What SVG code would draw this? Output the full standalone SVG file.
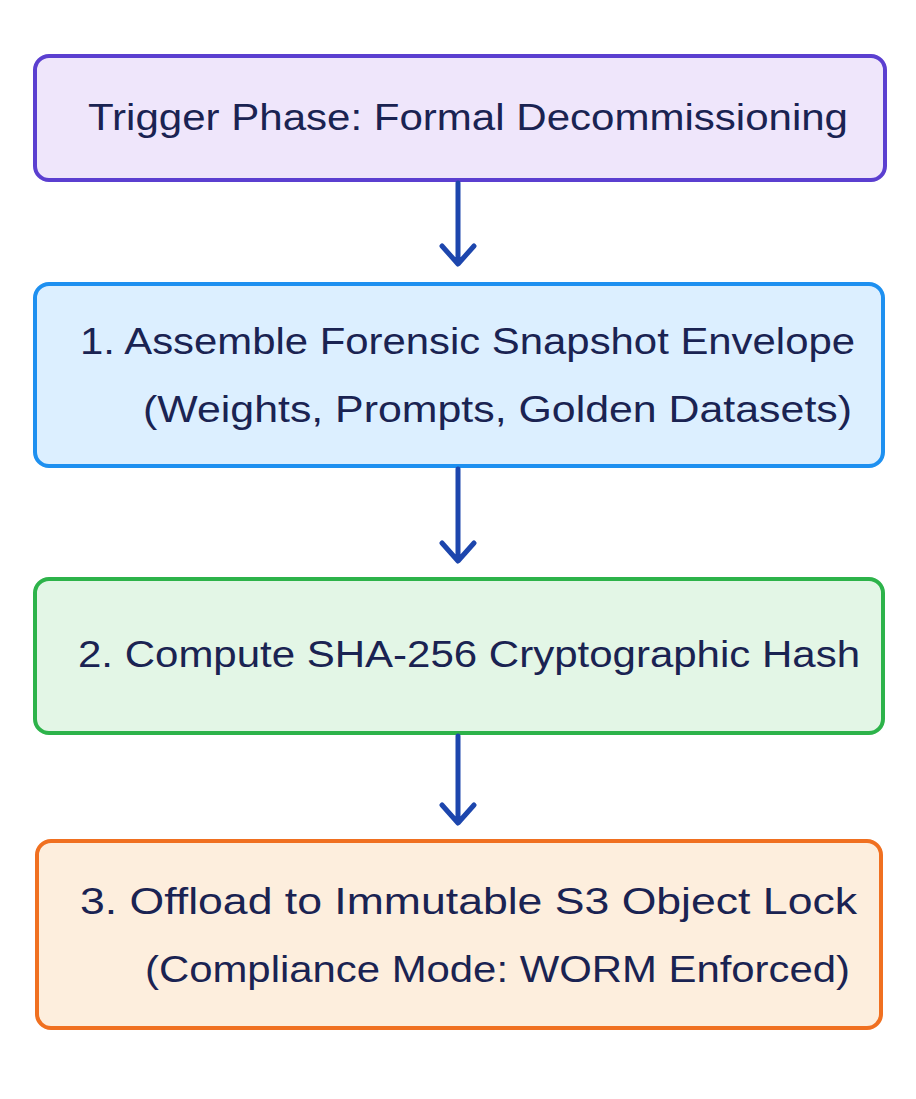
<svg xmlns="http://www.w3.org/2000/svg" width="916" height="1099" viewBox="0 0 916 1099">
<defs>
<style>
.t{font-family:"Liberation Sans",Lato,sans-serif;font-size:36px;fill:#1a2352;}
.b{stroke-width:4;}
.c{stroke:#1d46ad;stroke-width:5;fill:none;stroke-linecap:round;stroke-linejoin:round;}
</style>
</defs>
<rect width="916" height="1099" fill="#ffffff"/>
<g id="n0"><rect class="b" x="35" y="56" width="850" height="124" rx="14" fill="#efe6fb" stroke="#5b3fd0"/>
<text class="t" x="88" y="130" textLength="760" lengthAdjust="spacingAndGlyphs">Trigger Phase: Formal Decommissioning</text></g>
<g id="n1"><rect class="b" x="35" y="284" width="848" height="182" rx="14" fill="#dcefff" stroke="#1e90f0"/>
<text class="t" x="80" y="354" textLength="775" lengthAdjust="spacingAndGlyphs">1. Assemble Forensic Snapshot Envelope</text>
<text class="t" x="143" y="422" textLength="709" lengthAdjust="spacingAndGlyphs">(Weights, Prompts, Golden Datasets)</text></g>
<g id="n2"><rect class="b" x="35" y="579" width="848" height="154" rx="14" fill="#e3f6e6" stroke="#2db34a"/>
<text class="t" x="78" y="667" textLength="782" lengthAdjust="spacingAndGlyphs">2. Compute SHA-256 Cryptographic Hash</text></g>
<g id="n3"><rect class="b" x="37" y="841" width="844" height="187" rx="14" fill="#fdeedd" stroke="#f07020"/>
<text class="t" x="80" y="914" textLength="777" lengthAdjust="spacingAndGlyphs">3. Offload to Immutable S3 Object Lock</text>
<text class="t" x="145" y="982" textLength="705" lengthAdjust="spacingAndGlyphs">(Compliance Mode: WORM Enforced)</text></g>
<g id="connectors">
<path class="c" d="M458 183 V263 M442 246 L458 264 L474 246"/>
<path class="c" d="M458 469 V560 M442 543 L458 561 L474 543"/>
<path class="c" d="M458 736 V822 M442 805 L458 823 L474 805"/>
</g>
</svg>
